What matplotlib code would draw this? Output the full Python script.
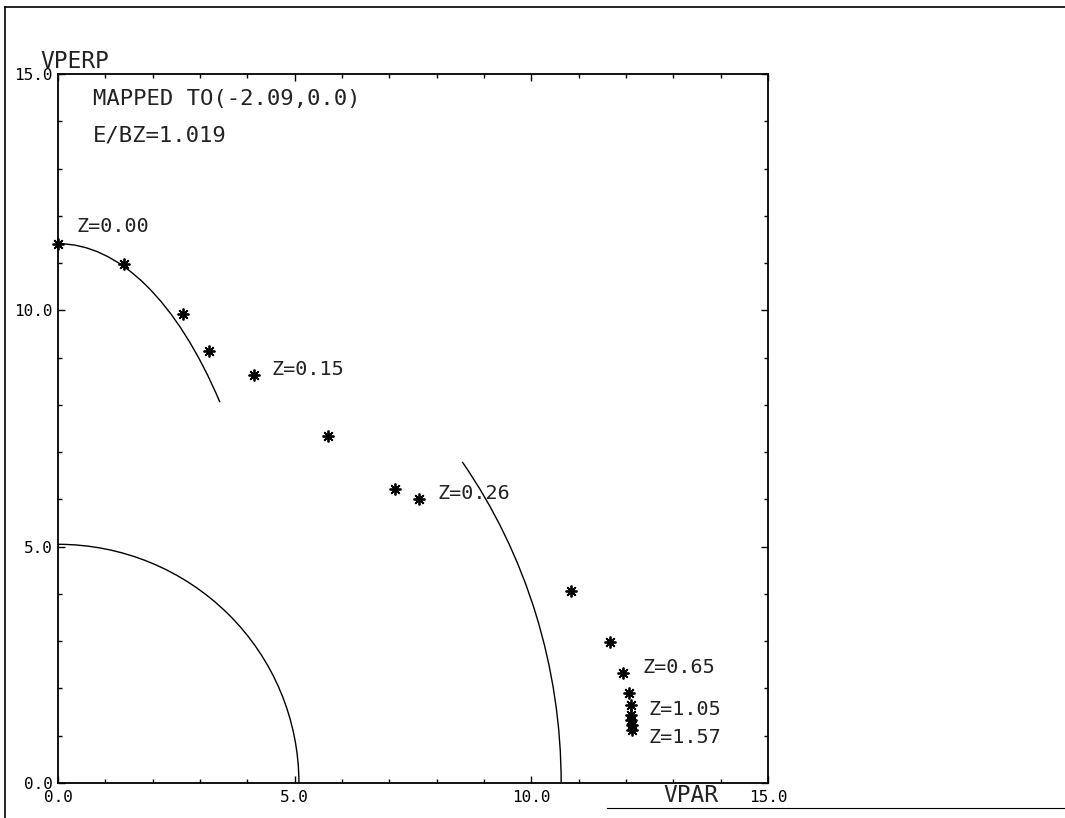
import numpy as np
import matplotlib
matplotlib.use("Agg")
import matplotlib.pyplot as plt
from matplotlib.patches import Arc
from matplotlib.lines import Line2D

vpar = [0.0, 1.39, 2.64, 3.19, 4.14, 5.70, 7.12, 7.63, 10.84,
        11.66, 11.94, 12.06, 12.11, 12.11, 12.11, 12.13, 12.13]
vperp = [11.41, 10.97, 9.93, 9.13, 8.64, 7.35, 6.23, 6.00, 4.06,
         2.98, 2.32, 1.90, 1.65, 1.44, 1.33, 1.23, 1.12]

# z labels and the point each one belongs to
z_labels = ["Z=0.00", "Z=0.15", "Z=0.26", "Z=0.65", "Z=1.05", "Z=1.57"]
z_points = [0, 4, 7, 10, 12, 16]

# boundary curves: semi-axis along VPAR, semi-axis along VPERP, angle range (deg)
curve_a = [4.83, 5.09, 10.63]
curve_b = [11.41, 5.05, 11.41]
curve_t1 = [67.0, 0.0, 0.0]
curve_t2 = [90.0, 90.0, 38.5]

ticks = [0.0, 5.0, 10.0, 15.0]
tick_labels = ["0.0", "5.0", "10.0", "15.0"]

header = ["MAPPED TO(-2.09,0.0)", "E/BZ=1.019"]

plt.rcParams["font.family"] = ["DejaVu Sans Mono"]

fig = plt.figure(figsize=(10.65, 8.18), dpi=100)
ax = fig.add_axes([58 / 1065, 35 / 818, 710 / 1065, 709 / 818])
ax.set_xlim(0, 15)
ax.set_ylim(0, 15)

for a, b, t1, t2 in zip(curve_a, curve_b, curve_t1, curve_t2):
    ax.add_patch(Arc((0, 0), 2 * a, 2 * b, theta1=t1, theta2=t2,
                     color="black", lw=1.0))

ax.plot(vpar, vperp, linestyle="none", marker=(8, 2, 0), markersize=8.5,
        markeredgewidth=1.3, color="black", clip_on=False)

offsets = [(18, 17), (18, 5), (18, 6), (19, 6), (17, -4), (16, -7)]
for lab, i, off in zip(z_labels, z_points, offsets):
    ax.annotate(lab, (vpar[i], vperp[i]), xytext=off, textcoords="offset pixels",
                ha="left", va="center", fontsize=14.5, color="#222222")

ax.text(0.049, 0.965, header[0], transform=ax.transAxes, ha="left", va="center",
        fontsize=16, color="#222222")
ax.text(0.049, 0.913, header[1], transform=ax.transAxes, ha="left", va="center",
        fontsize=16, color="#222222")

ax.text(-0.025, 1.009, "VPERP", transform=ax.transAxes, ha="left", va="baseline",
        fontsize=16.5, color="#222222")
ax.text(0.852, -0.017, "VPAR", transform=ax.transAxes, ha="left", va="center",
        fontsize=16.5, color="#222222")

ax.set_xticks(ticks)
ax.set_xticklabels(tick_labels)
ax.set_yticks(ticks)
ax.set_yticklabels(tick_labels)
ax.set_xticks(np.arange(16), minor=True)
ax.set_yticks(np.arange(16), minor=True)
ax.tick_params(which="both", direction="in", top=True, right=True, width=1,
               labelsize=11.5, colors="black")
ax.tick_params(which="major", length=5)
ax.tick_params(which="minor", length=3)
ax.tick_params(axis="x", pad=5)
ax.tick_params(axis="y", pad=4)
for s in ax.spines.values():
    s.set_linewidth(1.3)

# page frame of the plotter sheet
fig.add_artist(Line2D([5 / 1065, 1.0], [1 - 7 / 818, 1 - 7 / 818], color="black", lw=1.2))
fig.add_artist(Line2D([5 / 1065, 5 / 1065], [0.0, 1 - 7 / 818], color="black", lw=1.2))
fig.add_artist(Line2D([0.57, 1.0], [1 - 808 / 818, 1 - 808 / 818], color="black", lw=0.8))

fig.savefig("out.png", dpi=100)
